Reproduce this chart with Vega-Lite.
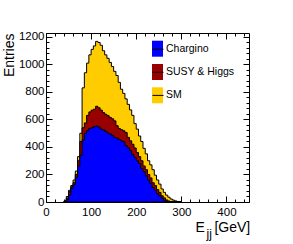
{
  "$schema": "https://vega.github.io/schema/vega-lite/v6.json",
  "width": 203,
  "height": 169,
  "autosize": "none",
  "padding": {"left": 46, "top": 33, "right": 44, "bottom": 42},
  "background": "white",
  "config": {
    "view": {"stroke": "black", "strokeWidth": 1},
    "font": "Liberation Sans",
    "axis": {"labelFont": "Liberation Sans", "titleFont": "Liberation Sans", "titleFontWeight": "normal", "titleColor": "black", "labelColor": "black", "tickColor": "black", "tickWidth": 1, "domain": false, "grid": false, "labelFontSize": 11.5}
  },
  "data": {"values": [
    {"x": 40, "B": 3, "R": 6, "Y": 8},
    {"x": 45, "B": 17, "R": 30, "Y": 40},
    {"x": 50, "B": 50, "R": 75, "Y": 85},
    {"x": 55, "B": 100, "R": 110, "Y": 120},
    {"x": 60, "B": 126, "R": 140, "Y": 160},
    {"x": 65, "B": 180, "R": 200, "Y": 225},
    {"x": 70, "B": 260, "R": 300, "Y": 330},
    {"x": 75, "B": 340, "R": 440, "Y": 500},
    {"x": 80, "B": 450, "R": 540, "Y": 830},
    {"x": 85, "B": 500, "R": 575, "Y": 940},
    {"x": 90, "B": 520, "R": 630, "Y": 1010},
    {"x": 95, "B": 535, "R": 655, "Y": 1070},
    {"x": 100, "B": 540, "R": 668, "Y": 1110},
    {"x": 105, "B": 548, "R": 675, "Y": 1135},
    {"x": 110, "B": 552, "R": 696, "Y": 1168},
    {"x": 115, "B": 545, "R": 685, "Y": 1160},
    {"x": 120, "B": 530, "R": 668, "Y": 1140},
    {"x": 125, "B": 525, "R": 650, "Y": 1100},
    {"x": 130, "B": 515, "R": 638, "Y": 1070},
    {"x": 135, "B": 502, "R": 628, "Y": 1045},
    {"x": 140, "B": 495, "R": 615, "Y": 1015},
    {"x": 145, "B": 485, "R": 605, "Y": 985},
    {"x": 150, "B": 470, "R": 590, "Y": 950},
    {"x": 155, "B": 465, "R": 555, "Y": 920},
    {"x": 160, "B": 455, "R": 535, "Y": 870},
    {"x": 165, "B": 445, "R": 526, "Y": 820},
    {"x": 170, "B": 440, "R": 518, "Y": 790},
    {"x": 175, "B": 410, "R": 505, "Y": 750},
    {"x": 180, "B": 395, "R": 470, "Y": 710},
    {"x": 185, "B": 375, "R": 445, "Y": 670},
    {"x": 190, "B": 345, "R": 420, "Y": 630},
    {"x": 195, "B": 325, "R": 393, "Y": 570},
    {"x": 200, "B": 300, "R": 360, "Y": 530},
    {"x": 205, "B": 280, "R": 330, "Y": 480},
    {"x": 210, "B": 245, "R": 300, "Y": 440},
    {"x": 215, "B": 220, "R": 262, "Y": 390},
    {"x": 220, "B": 190, "R": 235, "Y": 350},
    {"x": 225, "B": 160, "R": 200, "Y": 300},
    {"x": 230, "B": 135, "R": 175, "Y": 270},
    {"x": 235, "B": 105, "R": 140, "Y": 235},
    {"x": 240, "B": 85, "R": 120, "Y": 195},
    {"x": 245, "B": 60, "R": 90, "Y": 160},
    {"x": 250, "B": 45, "R": 70, "Y": 130},
    {"x": 255, "B": 28, "R": 45, "Y": 95},
    {"x": 260, "B": 12, "R": 30, "Y": 70},
    {"x": 265, "B": 5, "R": 15, "Y": 50},
    {"x": 270, "B": 2, "R": 7, "Y": 35},
    {"x": 275, "B": 1, "R": 3, "Y": 22},
    {"x": 280, "B": 0, "R": 1, "Y": 14},
    {"x": 285, "B": 0, "R": 0, "Y": 8},
    {"x": 290, "B": 0, "R": 0, "Y": 4},
    {"x": 295, "B": 0, "R": 0, "Y": 2},
    {"x": 300, "B": 0, "R": 0, "Y": 0}
  ]},
  "layer": [
    {
      "mark": {"type": "area", "interpolate": "step-after", "strokeWidth": 1, "opacity": 1},
      "encoding": {
        "x": {"field": "x", "type": "quantitative", "scale": {"domain": [0, 450], "nice": false, "zero": false},
          "axis": {"orient": "bottom", "values": [0,20,40,60,80,100,120,140,160,180,200,220,240,260,280,300,320,340,360,380,400,420,440],
            "labelExpr": "datum.value % 100 === 0 ? datum.label : ''",
            "tickSize": {"condition": {"test": "datum.value % 100 === 0", "value": -6}, "value": -3},
            "labelPadding": 10.5, "labelFlush": false,
            "title": "[GeV]", "titleFontSize": 14, "titleX": 203.7, "titleY": 29.5, "titleAlign": "right", "titleBaseline": "alphabetic", "titleAnchor": null}},
        "y": {"field": "Y", "type": "quantitative", "stack": null, "scale": {"domain": [0, 1229], "nice": false, "zero": false},
          "axis": {"orient": "left", "values": [0,40,80,120,160,200,240,280,320,360,400,440,480,520,560,600,640,680,720,760,800,840,880,920,960,1000,1040,1080,1120,1160,1200],
            "labelExpr": "datum.value % 200 === 0 ? datum.label : ''", "format": "d",
            "tickSize": {"condition": {"test": "datum.value % 200 === 0", "value": -6}, "value": -3},
            "labelPadding": 8, "labelFlush": false,
            "title": "Entries", "titleFontSize": 14, "titleAngle": -90, "titleX": -33, "titleY": 0, "titleAlign": "right", "titleBaseline": "alphabetic"}},
        "fill": {"datum": "SM", "type": "nominal", "scale": {"domain": ["Chargino", "SUSY & Higgs", "SM"], "range": ["#0000ff", "#990000", "#ffcc00"]},
          "legend": {"orient": "none", "legendX": 103.5, "legendY": 7.7, "zindex": 0, "title": null, "symbolType": "M-0.69,-1H0.69V1H-0.69Z", "symbolSize": 256, "symbolStrokeWidth": 0, "symbolOpacity": 1, "labelFontSize": 10.5, "labelFont": "Liberation Sans", "labelColor": "black", "labelOffset": 0.5, "rowPadding": 7.3, "padding": 0, "labelLimit": 200}},
        "stroke": {"datum": "SM", "type": "nominal", "scale": {"range": ["black", "black", "black"]},
          "legend": {"orient": "none", "legendX": 103.5, "legendY": 7.7, "zindex": 2, "title": null, "symbolType": "M-0.69,-1M-0.69,0H0.69M0.69,1", "symbolSize": 256, "symbolStrokeWidth": 1, "symbolOpacity": 1, "labelFontSize": 10.5, "labelExpr": "''", "labelOffset": 0.5, "rowPadding": 2.1, "padding": 0}}
      }
    },
    {
      "mark": {"type": "area", "interpolate": "step-after", "strokeWidth": 1, "opacity": 1},
      "encoding": {
        "x": {"field": "x", "type": "quantitative", "axis": null},
        "y": {"field": "R", "type": "quantitative", "stack": null, "axis": null},
        "fill": {"datum": "SUSY & Higgs", "type": "nominal"},
        "stroke": {"datum": "SUSY & Higgs", "type": "nominal"}
      }
    },
    {
      "mark": {"type": "area", "interpolate": "step-after", "strokeWidth": 1, "opacity": 1},
      "encoding": {
        "x": {"field": "x", "type": "quantitative", "axis": null},
        "y": {"field": "B", "type": "quantitative", "stack": null, "axis": null},
        "fill": {"datum": "Chargino", "type": "nominal"},
        "stroke": {"datum": "Chargino", "type": "nominal"}
      }
    },
    {
      "mark": {"type": "point", "opacity": 0},
      "encoding": {
        "x": {"field": "x", "type": "quantitative",
          "axis": {"orient": "top", "values": [0,20,40,60,80,100,120,140,160,180,200,220,240,260,280,300,320,340,360,380,400,420,440],
            "labels": false,
            "tickSize": {"condition": {"test": "datum.value % 100 === 0", "value": -6}, "value": -3},
            "title": "E", "titleFontSize": 14, "titleX": 149, "titleY": 198.5, "titleAlign": "left", "titleBaseline": "alphabetic"}},
        "y": {"field": "Y", "type": "quantitative",
          "axis": {"orient": "right", "values": [0,40,80,120,160,200,240,280,320,360,400,440,480,520,560,600,640,680,720,760,800,840,880,920,960,1000,1040,1080,1120,1160,1200],
            "labels": false,
            "tickSize": {"condition": {"test": "datum.value % 200 === 0", "value": -6}, "value": -3},
            "title": "jj", "titleFontSize": 12, "titleAngle": 0, "titleX": -43, "titleY": 204, "titleAlign": "left", "titleBaseline": "alphabetic"}}
      }
    }
  ],
  "resolve": {"axis": {"x": "independent", "y": "independent"}}
}
